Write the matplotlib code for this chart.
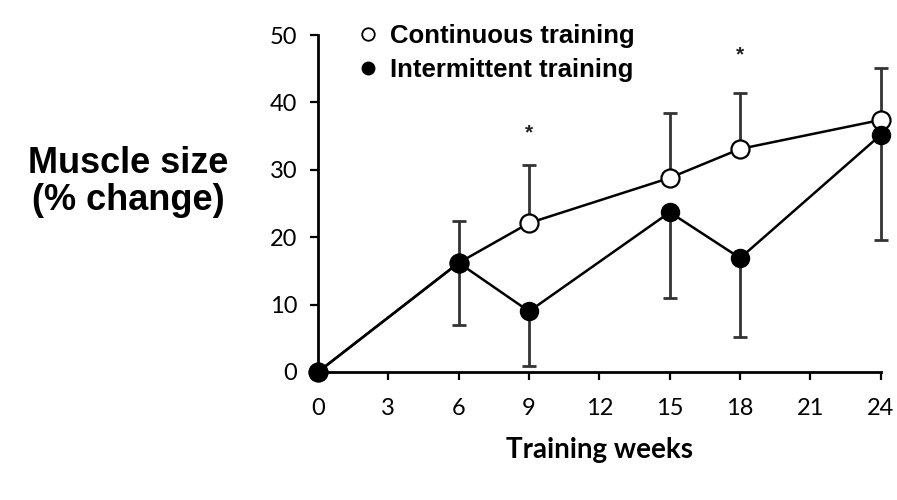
import matplotlib.pyplot as plt
from matplotlib.lines import Line2D
import numpy as np

# values
weeks = [0, 6, 9, 15, 18, 24]
continuous = [0, 16.2, 22.1, 28.8, 33.1, 37.4]
cont_err_up = [0, 6.2, 8.6, 9.6, 8.3, 7.7]
intermittent = [0, 16.2, 9.0, 23.7, 16.9, 35.2]
inter_err_down = [0, 9.2, 8.1, 12.7, 11.7, 15.6]
star_weeks = [9, 18]
star_y = [35.5, 47.0]
xticks = [0, 3, 6, 9, 12, 15, 18, 21, 24]
yticks = [0, 10, 20, 30, 40, 50]

fig = plt.figure(figsize=(8.97, 5.0), dpi=100)
ax = fig.add_axes([0.3545, 0.256, 0.6275, 0.674])

zeros = np.zeros(len(weeks))
ax.errorbar(weeks[1:], continuous[1:], yerr=[zeros[1:], cont_err_up[1:]],
            fmt='none', ecolor='#333333', elinewidth=2, capsize=5, capthick=2,
            zorder=2, clip_on=False)
ax.errorbar(weeks[1:], intermittent[1:], yerr=[inter_err_down[1:], zeros[1:]],
            fmt='none', ecolor='#333333', elinewidth=2, capsize=5, capthick=2,
            zorder=2, clip_on=False)

ax.plot(weeks, continuous, color='black', lw=1.8, marker='o', ms=13,
        mfc='white', mec='black', mew=1.6, zorder=3, clip_on=False)
ax.plot(weeks, intermittent, color='black', lw=1.8, marker='o', ms=13,
        mfc='black', mec='black', zorder=4, clip_on=False)

for sx, sy in zip(star_weeks, star_y):
    ax.text(sx, sy, '*', ha='center', va='center', fontsize=15,
            family='Liberation Sans', fontweight='bold', color='#222222')

ax.set_xlim(0, 24)
ax.set_ylim(0, 50)
ax.set_xticks(xticks)
ax.set_yticks(yticks)
for s in ['top', 'right']:
    ax.spines[s].set_visible(False)
for s in ['left', 'bottom']:
    ax.spines[s].set_linewidth(2)
ax.tick_params(direction='out', length=6, width=1.6, labelsize=17)
ax.tick_params(axis='x', pad=13)
ax.tick_params(axis='y', pad=9)
for lab in ax.get_xticklabels() + ax.get_yticklabels():
    lab.set_family('Lato')

ax.set_xlabel('Training weeks', family='Lato', fontweight='bold', fontsize=20, labelpad=13)
fig.text(0.143, 0.636, 'Muscle size\n(% change)', ha='center', va='center',
         family='Liberation Sans', fontweight='bold', fontsize=26, linespacing=1.1)

handles = [
    Line2D([], [], ls='none', marker='o', ms=9, mfc='white', mec='black', mew=1.3),
    Line2D([], [], ls='none', marker='o', ms=9, mfc='black', mec='black'),
]
ax.legend(handles, ['Continuous training', 'Intermittent training'],
          loc='upper left', bbox_to_anchor=(0.373, 0.998), bbox_transform=fig.transFigure,
          frameon=False, handlelength=0.8, handletextpad=0.45, labelspacing=0.4,
          prop={'family': 'Liberation Sans', 'weight': 'bold', 'size': 18.5})

fig.savefig('out.png', dpi=100)
